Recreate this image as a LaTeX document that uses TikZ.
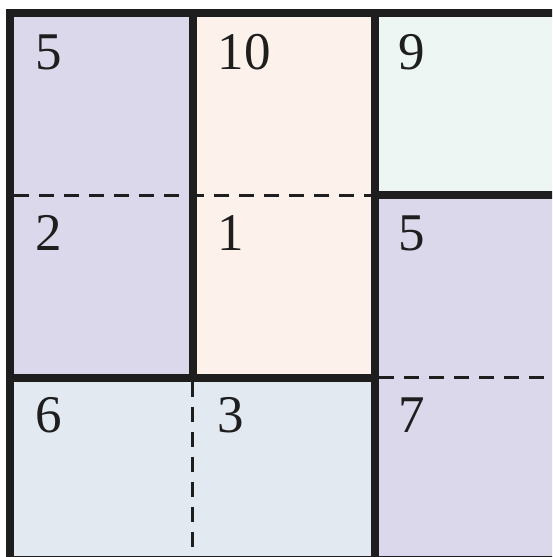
\documentclass[tikz,border=0pt]{standalone}
\usepackage{fontspec}
\setmainfont{Liberation Serif}
\definecolor{lav}{HTML}{DCD8EB}
\definecolor{peach}{HTML}{FDF1EC}
\definecolor{mint}{HTML}{EDF6F3}
\definecolor{lblue}{HTML}{E3E9F1}
\definecolor{ink}{HTML}{1E1E1E}
\begin{document}
\begin{tikzpicture}[x=0.5pt,y=-0.5pt,
  thick line/.style={draw=ink,line width=4pt,line cap=rect},
  dash line/.style={draw=ink,line width=1.5pt,dash pattern=on 7.5pt off 5pt},
  lab/.style={anchor=base west,inner sep=0pt,text=ink,font=\fontsize{26.5}{30}\selectfont}]
\useasboundingbox (0,0) rectangle (552,557);
\clip (0,0) rectangle (552,557);
% fills
\fill[lav] (10,12.5) rectangle (192.5,377.5);
\fill[peach] (192.5,12.5) rectangle (375,377.5);
\fill[mint] (375,12.5) rectangle (557.5,195);
\fill[lav] (375,195) rectangle (557.5,560);
\fill[lblue] (10,377.5) rectangle (375,560);
% dashed
\draw[dash line] (14,195) -- (375,195);
\draw[dash line] (379,377.5) -- (557.5,377.5);
\draw[dash line] (192.5,381.5) -- (192.5,560);
% thick
\draw[thick line] (10,12.5) rectangle (557.5,560);
\draw[thick line] (192.5,12.5) -- (192.5,377.5);
\draw[thick line] (375,12.5) -- (375,560);
\draw[thick line] (10,377.5) -- (375,377.5);
\draw[thick line] (375,195) -- (557.5,195);
% labels
\node[lab] (a) at (35,69) {5};
\node[lab] (b) at (217.5,69) {10};
\node[lab] (c) at (398,69) {9};
\node[lab] (d) at (35,250) {2};
\node[lab] (e) at (217.5,250) {1};
\node[lab] (f) at (398,250) {5};
\node[lab] (g) at (35,432) {6};
\node[lab] (h) at (217.5,432) {3};
\node[lab] (i) at (398,432) {7};
\end{tikzpicture}
\end{document}
